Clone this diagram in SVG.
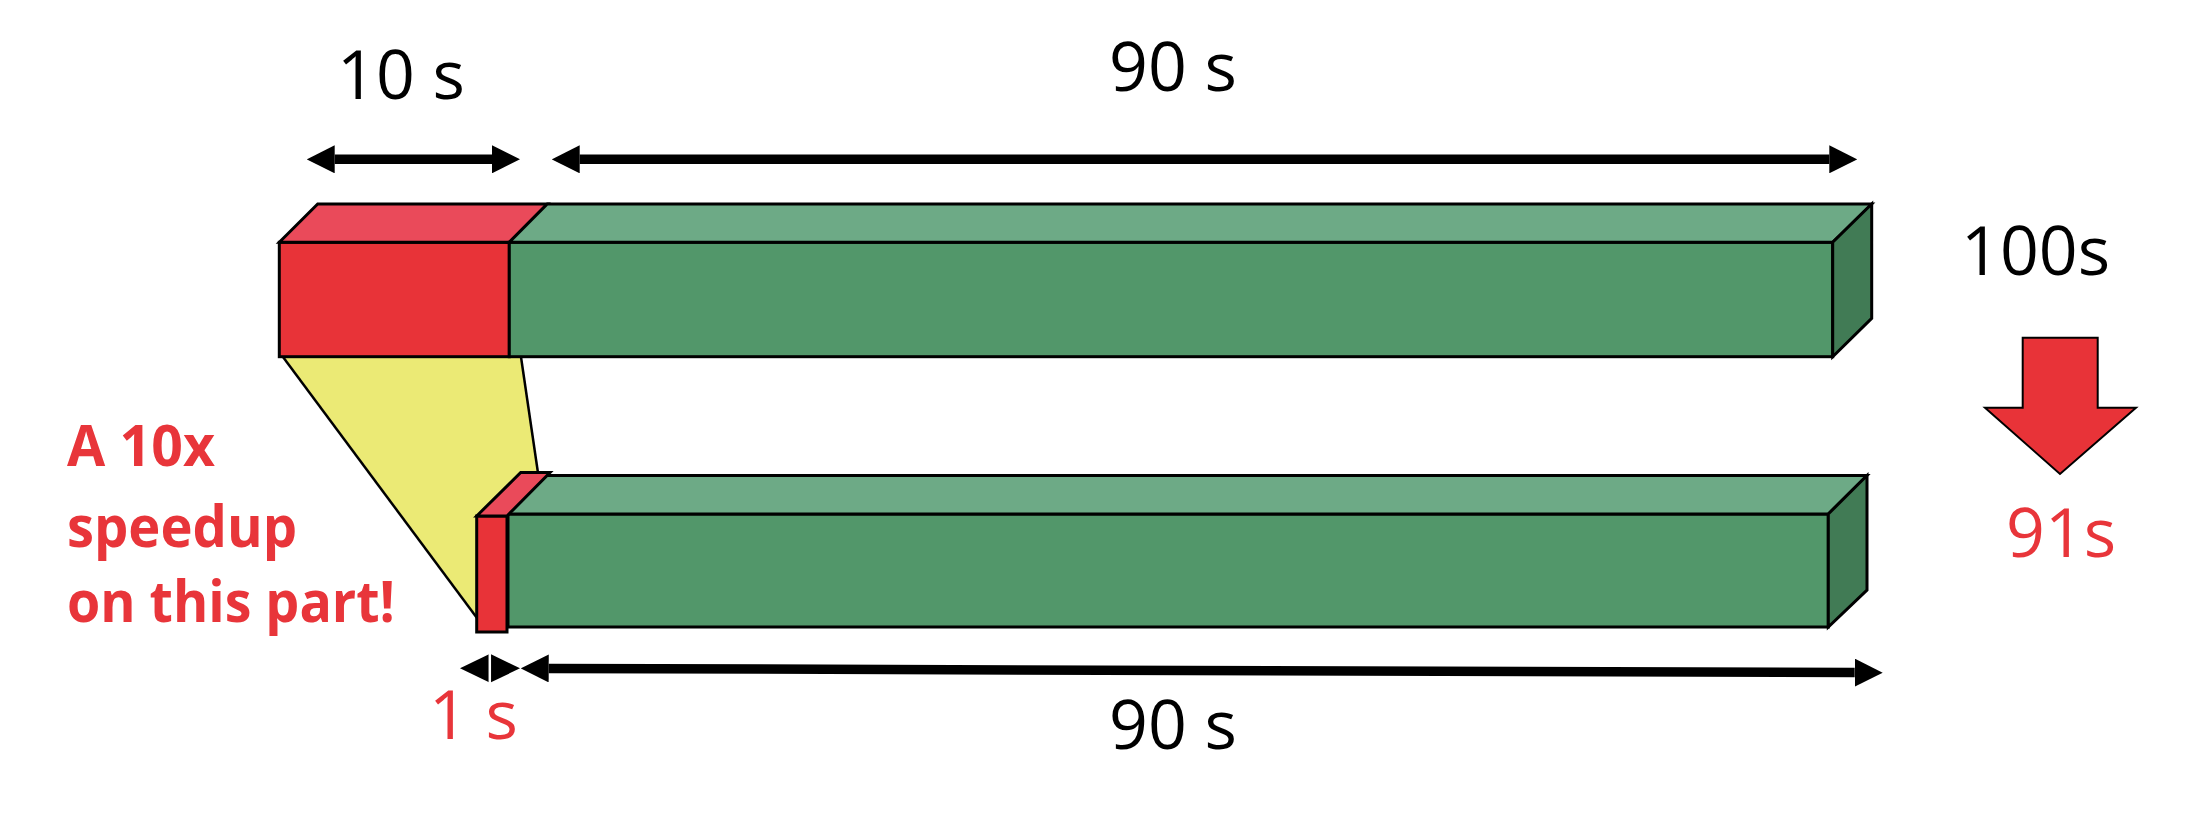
<svg xmlns="http://www.w3.org/2000/svg" width="2210" height="818" viewBox="0 0 2210 818">
<defs>
<style>
.edge{stroke:#000;stroke-width:3;stroke-linejoin:miter}
.rf{fill:#E83338}.rt{fill:#EA4A5A}
.gf{fill:#52976A}.gt{fill:#6DAA86}.gs{fill:#417B55}
.lbl{font-family:"Open Sans","Noto Sans",sans-serif;font-size:68px;fill:#000}
.red{fill:#E8353A}
.bold{font-family:"Open Sans","Noto Sans",sans-serif;font-weight:bold;font-size:57px;fill:#E8353A}
.shaft{stroke:#000;stroke-width:9.5;fill:none}
</style>
<marker id="ah" viewBox="0 0 28 28" refX="0" refY="14" markerWidth="28" markerHeight="28" markerUnits="userSpaceOnUse" orient="auto-start-reverse">
<path d="M0,0 L28,14 L0,28 Z" fill="#000"/>
</marker>
</defs>
<rect width="2210" height="818" fill="#fff"/>

<g id="zoom-region">
<polygon points="283,357 521,357 538,473 490,520 477,617" fill="#EBEA75"/>
<line x1="283" y1="357" x2="477" y2="618" stroke="#000" stroke-width="2.5"/>
<line x1="521" y1="357" x2="538" y2="473" stroke="#000" stroke-width="2.5"/>
</g>

<g id="top-bar">
<g id="top-red">
<rect class="rf edge" x="279.3" y="242.3" width="230" height="114.4"/>
<polygon class="rt edge" points="279.3,242.3 317.7,204 547.3,204 509.3,242.3"/>
</g>
<g id="top-green">
<rect class="gf edge" x="509.3" y="242.3" width="1323.4" height="114.4"/>
<polygon class="gt edge" points="509.3,242.3 547.3,204 1871.7,204 1832.7,242.3"/>
<polygon class="gs edge" points="1832.7,242.3 1871.7,204 1871.7,318.3 1832.7,356.7"/>
</g>
</g>

<g id="bottom-bar">
<g id="bottom-green">
<rect class="gf edge" x="508" y="514" width="1320.3" height="113"/>
<polygon class="gt edge" points="508,514 546.7,475.5 1867,475.5 1828.3,514"/>
<polygon class="gs edge" points="1828.3,514 1867,475.5 1867,590 1828.3,627"/>
</g>
<g id="bottom-red">
<rect class="rf edge" x="476.7" y="516" width="30.3" height="116"/>
<polygon class="rt edge" points="476.7,516 520.7,472.5 550,472.5 507,516"/>
</g>
</g>

<g id="connectors">
<line class="shaft" x1="334.7" y1="159.3" x2="492" y2="159.3" marker-start="url(#ah)" marker-end="url(#ah)"/>
<line class="shaft" x1="579.7" y1="159.3" x2="1829.3" y2="159.3" marker-start="url(#ah)" marker-end="url(#ah)"/>
<polygon points="460,668.3 489,654.3 489,682.3" fill="#000"/>
<polygon points="520,668.3 491,654.3 491,682.3" fill="#000"/>
<line x1="489.8" y1="652" x2="489.8" y2="684" stroke="#fff" stroke-width="2.5"/>
<line class="shaft" x1="548.7" y1="668.4" x2="1854.7" y2="672.6" stroke-width="10" marker-start="url(#ah)" marker-end="url(#ah)"/>
</g>

<g id="change-arrow">
<polygon points="2022.7,337.7 2097.7,337.7 2097.7,407.7 2136,407.7 2060,474 1985,407.7 2022.7,407.7" fill="#E83338" stroke="#000" stroke-width="2"/>
</g>

<g id="labels">
<text class="lbl" x="337" y="99.3" font-size="70">10 s</text>
<text class="lbl" x="1109" y="90.7">90 s</text>
<text class="lbl" x="1961" y="275" font-size="70">100s</text>
<text class="lbl red" x="2006" y="556.7">91s</text>
<text class="lbl red" x="429" y="739.3">1 s</text>
<text class="lbl" x="1109" y="749.3">90 s</text>
<text class="bold" x="67" y="465.7" textLength="148" lengthAdjust="spacingAndGlyphs">A 10x</text>
<text class="bold" x="67" y="546.7" textLength="230" lengthAdjust="spacingAndGlyphs">speedup</text>
<text class="bold" x="67" y="621.7" textLength="328" lengthAdjust="spacingAndGlyphs">on this part!</text>
</g>
</svg>
